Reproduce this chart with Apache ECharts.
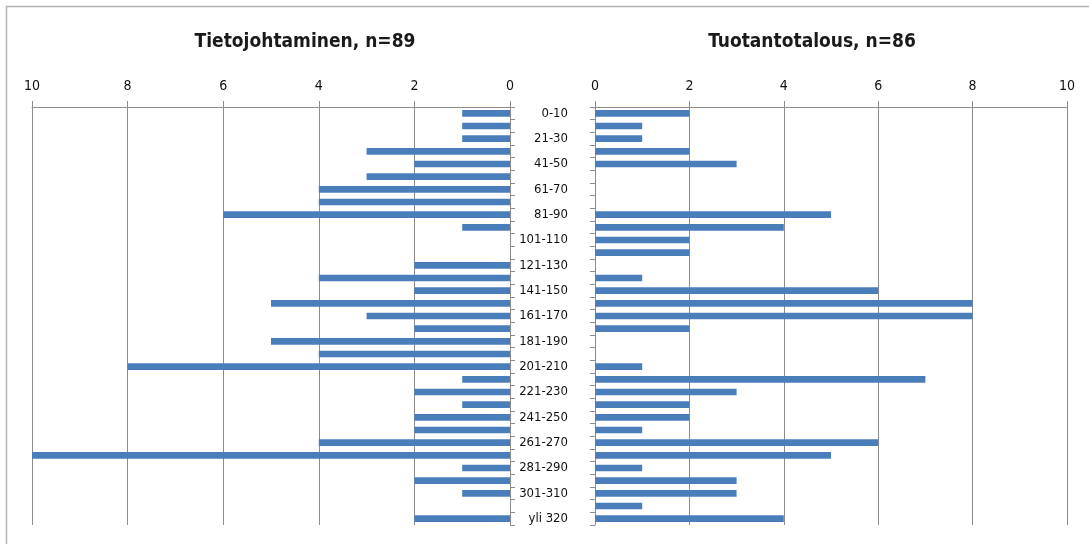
<!DOCTYPE html>
<html>
<head>
<meta charset="utf-8">
<script src="https://cdn.jsdelivr.net/npm/echarts@6/dist/echarts.min.js"></script>
<style>
  html, body { margin: 0; padding: 0; background: #fff; }
  #chart { width: 1089px; height: 544px; }
</style>
</head>
<body>
<div id="chart"></div>
<script>
// Age groups (days) shown on the shared vertical axis
const categories = [
  '0-10', '11-20', '21-30', '31-40', '41-50', '51-60', '61-70', '71-80',
  '81-90', '91-100', '101-110', '111-120', '121-130', '131-140', '141-150',
  '151-160', '161-170', '171-180', '181-190', '191-200', '201-210',
  '211-220', '221-230', '231-240', '241-250', '251-260', '261-270',
  '271-280', '281-290', '291-300', '301-310', '311-320', 'yli 320'
];

// Counts per group
const tietojohtaminen = [
  1, 1, 1, 3, 2, 3, 4, 4, 6, 1, 0, 0, 2, 4, 2, 5, 3,
  2, 5, 4, 8, 1, 2, 1, 2, 2, 4, 10, 1, 2, 1, 0, 2
];
const tuotantotalous = [
  2, 1, 1, 2, 3, 0, 0, 0, 5, 4, 2, 2, 0, 1, 6, 8, 8,
  2, 0, 0, 1, 7, 3, 2, 2, 1, 6, 5, 1, 3, 3, 1, 4
];

const titles = ['Tietojohtaminen, n=89', 'Tuotantotalous, n=86'];
const axisTicks = [0, 2, 4, 6, 8, 10];

const FONT = '"Liberation Sans Narrow", "DejaVu Sans Condensed", "Open Sans", sans-serif';
const GRAY = '#8c8c8c';
const BAR = '#4a7ebb';

const chart = echarts.init(document.getElementById('chart'), null, { renderer: 'canvas' });

function valueAxis(gridIndex, inverse) {
  return {
    type: 'value',
    gridIndex: gridIndex,
    position: 'top',
    inverse: inverse,
    min: axisTicks[0],
    max: axisTicks[axisTicks.length - 1],
    interval: axisTicks[1] - axisTicks[0],
    axisLine: { show: true, lineStyle: { color: GRAY, width: 1 } },
    axisTick: { show: true, length: 6, lineStyle: { color: GRAY } },
    splitLine: { show: true, lineStyle: { color: GRAY, width: 1 } },
    axisLabel: {
      color: '#111111', fontFamily: FONT, fontSize: 14, margin: 14
    }
  };
}

function categoryAxis(gridIndex, position, showLabels) {
  return {
    type: 'category',
    gridIndex: gridIndex,
    position: position,
    inverse: true,
    data: categories,
    boundaryGap: true,
    axisLine: { show: true, lineStyle: { color: GRAY, width: 1 } },
    axisTick: { show: true, interval: 0, length: 5, lineStyle: { color: GRAY } },
    axisLabel: {
      show: showLabels,
      interval: 1,
      color: '#111111',
      fontFamily: FONT,
      fontSize: 13,
      margin: 27,
      align: 'right'
    }
  };
}

chart.setOption({
  animation: false,
  backgroundColor: '#ffffff',
  title: [
    {
      text: titles[0], left: 300, top: 28, textAlign: 'center',
      textStyle: { fontFamily: FONT, fontSize: 19, fontWeight: 'bold', color: '#1a1a1a' }
    },
    {
      text: titles[1], left: 807, top: 28, textAlign: 'center',
      textStyle: { fontFamily: FONT, fontSize: 19, fontWeight: 'bold', color: '#1a1a1a' }
    }
  ],
  graphic: [
    {
      type: 'rect',
      shape: { x: 6.5, y: 6.5, width: 1200, height: 700 },
      style: { fill: 'none', stroke: '#b4b4b4', lineWidth: 1.5 },
      silent: true
    }
  ],
  grid: [
    { left: 32, right: 1089 - 510, top: 107, height: 418 },
    { left: 595, right: 1089 - 1067, top: 107, height: 418 }
  ],
  xAxis: [valueAxis(0, true), valueAxis(1, false)],
  yAxis: [categoryAxis(0, 'right', false), categoryAxis(1, 'left', true)],
  series: [
    {
      name: titles[0], type: 'bar', xAxisIndex: 0, yAxisIndex: 0,
      data: tietojohtaminen, barWidth: '52%',
      itemStyle: { color: BAR }
    },
    {
      name: titles[1], type: 'bar', xAxisIndex: 1, yAxisIndex: 1,
      data: tuotantotalous, barWidth: '52%',
      itemStyle: { color: BAR }
    }
  ]
});
</script>
</body>
</html>
